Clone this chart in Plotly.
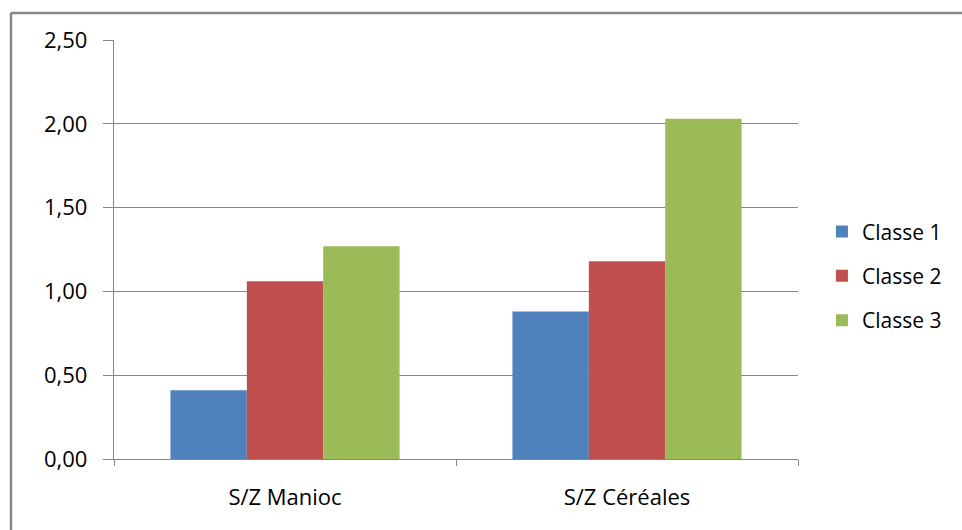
import plotly.graph_objects as go

categories = ["S/Z Manioc", "S/Z Céréales"]
series_names = ["Classe 1", "Classe 2", "Classe 3"]
classe_1 = [0.41, 0.88]
classe_2 = [1.06, 1.18]
classe_3 = [1.27, 2.03]
y_ticks = [0, 0.5, 1.0, 1.5, 2.0, 2.5]

colors = ["#4F81BD", "#C0504D", "#9BBB59"]
grey = "#868686"
font = dict(family="Open Sans", size=22, color="black")

fig = go.Figure()
for i, (name, vals) in enumerate(zip(series_names, [classe_1, classe_2, classe_3])):
    fig.add_trace(go.Bar(x=categories, y=vals, name=name, legendgroup=name,
                         marker=dict(color=colors[i], line=dict(width=0))))

fig.update_layout(
    width=962, height=530,
    margin=dict(l=114, r=164, t=40, b=71),
    paper_bgcolor="white", plot_bgcolor="white",
    font=font,
    separators=", ",
    barmode="group", bargap=0.33, bargroupgap=0,
    showlegend=True,
    legend=dict(x=1.035, xanchor="left", y=0.437, yanchor="middle",
                traceorder="grouped", tracegroupgap=14,
                font=dict(family="Open Sans", size=21, color="black"),
                itemwidth=30),
    xaxis=dict(showline=True, linecolor=grey, linewidth=1.3,
               ticks="outside", tickson="boundaries", ticklen=6,
               tickcolor=grey, tickwidth=1.3, ticklabelstandoff=18,
               showgrid=False),
    yaxis=dict(range=[0, 2.5], tickvals=y_ticks, tickformat=".2f",
               showline=True, linecolor=grey, linewidth=1.3,
               ticks="outside", ticklen=10, tickcolor=grey, tickwidth=1.3,
               showgrid=True, gridcolor=grey, gridwidth=1.3,
               zeroline=False, ticklabelstandoff=11),
    shapes=[
        dict(type="line", xref="paper", yref="paper",
             x0=-0.1506, x1=-0.1506, y0=-1, y1=1.0644,
             line=dict(color=grey, width=2.5)),
        dict(type="line", xref="paper", yref="paper",
             x0=-0.1506, x1=2, y0=1.0644, y1=1.0644,
             line=dict(color=grey, width=2.5)),
    ],
)

# drop the default 8px body margin so the figure fills the window
fig.write_html("out.html", config={"displayModeBar": False},
               post_script="document.body.style.margin='0';")
